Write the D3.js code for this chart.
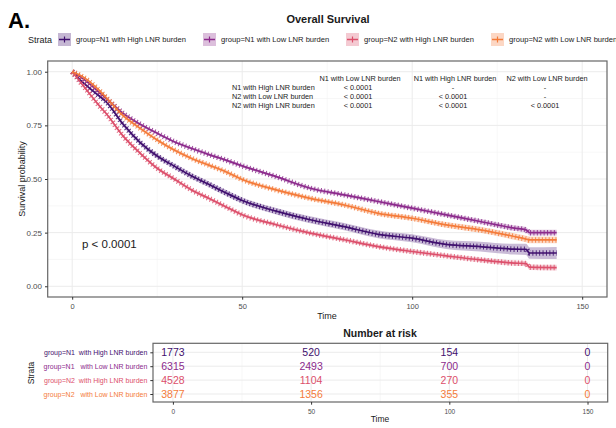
<!DOCTYPE html>
<html>
<head>
<meta charset="utf-8">
<script src="https://cdn.jsdelivr.net/npm/d3@7"></script>
<style>
body { margin: 0; background: #fff; }
text { font-family: "Liberation Sans", Arial, sans-serif; }
</style>
</head>
<body>
<svg id="chart" width="616" height="428"></svg>
<script>
// data
var groups = ["N1 High", "N1 Low", "N2 High", "N2 Low"];
var legendLabels = ["group=N1 with High LNR burden", "group=N1 with Low LNR burden", "group=N2 with High LNR burden", "group=N2 with Low LNR burden"];
var riskLabels = ["group=N1  with High LNR burden", "group=N1   with Low LNR burden", "group=N2  with High LNR burden", "group=N2   with Low LNR burden"];
var colors = ["#3f0f6e", "#8c2a8c", "#dc4f6b", "#f47b3a"];

var times = [0, 2.5, 5, 7.5, 10, 15, 20, 25, 30, 35, 40, 45, 50, 60, 70, 80, 90, 100, 110, 120, 130, 133.5, 134.5, 142.5];
var survN1High = [1, 0.96, 0.925, 0.893, 0.86, 0.755, 0.67, 0.607, 0.56, 0.515, 0.477, 0.437, 0.4, 0.35, 0.31, 0.278, 0.242, 0.224, 0.195, 0.185, 0.173, 0.172, 0.155, 0.155];
var survN1Low = [1, 0.975, 0.945, 0.91, 0.876, 0.806, 0.755, 0.713, 0.674, 0.643, 0.615, 0.589, 0.561, 0.511, 0.457, 0.426, 0.395, 0.364, 0.333, 0.302, 0.271, 0.263, 0.25, 0.25];
var survN2High = [1, 0.95, 0.9, 0.85, 0.805, 0.7, 0.62, 0.55, 0.5, 0.45, 0.411, 0.372, 0.333, 0.287, 0.248, 0.217, 0.185, 0.162, 0.142, 0.123, 0.108, 0.106, 0.089, 0.087];
var survN2Low = [1, 0.982, 0.955, 0.92, 0.88, 0.795, 0.736, 0.682, 0.635, 0.597, 0.566, 0.535, 0.498, 0.449, 0.41, 0.379, 0.34, 0.317, 0.286, 0.263, 0.232, 0.22, 0.216, 0.216];
// confidence band half widths
var ciN1High = [0, .004, .006, .007, .008, .01, .011, .012, .012, .013, .013, .014, .014, .015, .016, .017, .018, .019, .021, .023, .025, .026, .027, .028];
var ciN1Low = [0, .002, .003, .004, .005, .006, .006, .006, .006, .007, .007, .007, .007, .007, .008, .008, .009, .009, .01, .011, .012, .012, .013, .013];
var ciN2High = [0, .003, .004, .005, .006, .007, .007, .008, .008, .008, .008, .008, .008, .008, .009, .009, .009, .01, .01, .011, .012, .012, .013, .013];
var ciN2Low = [0, .003, .004, .005, .006, .007, .008, .008, .008, .008, .009, .009, .009, .009, .01, .01, .011, .012, .013, .014, .015, .015, .016, .016];

var pHeaders = ["N1 with Low LNR burden", "N1 with High LNR burden", "N2 with Low LNR burden"];
var pRows = ["N1 with High LNR burden", "N2 with Low LNR burden", "N2 with High LNR burden"];
var pValues = [["< 0.0001", "-", "-"], ["< 0.0001", "< 0.0001", "-"], ["< 0.0001", "< 0.0001", "< 0.0001"]];

var riskTimes = [0, 50, 100, 150];
var riskN1High = [1773, 520, 154, 0];
var riskN1Low = [6315, 2493, 700, 0];
var riskN2High = [4528, 1104, 270, 0];
var riskN2Low = [3877, 1356, 355, 0];

var xTicks = [0, 50, 100, 150];
var yTicks = [0, 0.25, 0.5, 0.75, 1];

var surv = [survN1High, survN1Low, survN2High, survN2Low];
var ci = [ciN1High, ciN1Low, ciN2High, ciN2Low];
var risk = [riskN1High, riskN1Low, riskN2High, riskN2Low];

var svg = d3.select("#chart");

// titles
svg.append("text").attr("x", 8).attr("y", 28)
	.attr("font-size", 22).attr("font-weight", "bold").text("A.");
svg.append("text").attr("x", 328).attr("y", 23).attr("text-anchor", "middle")
	.attr("font-size", 11).attr("font-weight", "bold").attr("fill", "#1a1a1a").text("Overall Survival");

// legend
svg.append("text").attr("x", 28).attr("y", 42.5).attr("font-size", 9).attr("fill", "#1a1a1a").text("Strata");
var legX = [58, 203, 346, 491];
var leg = svg.append("g").selectAll("g").data(groups).enter().append("g")
	.attr("transform", function(d, i) { return "translate(" + legX[i] + ",33)"; });
leg.append("rect").attr("width", 13).attr("height", 13)
	.attr("fill", function(d, i) { return colors[i]; }).attr("fill-opacity", 0.3);
leg.append("line").attr("x1", 1).attr("x2", 12).attr("y1", 6.5).attr("y2", 6.5)
	.attr("stroke", function(d, i) { return colors[i]; }).attr("stroke-width", 1.5);
leg.append("line").attr("x1", 6.5).attr("x2", 6.5).attr("y1", 3.5).attr("y2", 9.5)
	.attr("stroke", function(d, i) { return colors[i]; }).attr("stroke-width", 1.2);
leg.append("text").attr("x", 18).attr("y", 9.3).attr("font-size", 7.6).attr("fill", "#1a1a1a")
	.text(function(d, i) { return legendLabels[i]; });

// main panel
var x = d3.scaleLinear().domain([-7.2, 157.3]).range([47.7, 607]);
var y = d3.scaleLinear().domain([-0.05, 1.05]).range([297, 61]);

var grid = svg.append("g");
[25, 75, 125].forEach(function(t) {
	grid.append("line").attr("x1", x(t)).attr("x2", x(t)).attr("y1", 61).attr("y2", 297)
		.attr("stroke", "#f2f2f2").attr("stroke-width", 0.6);
});
[0.125, 0.375, 0.625, 0.875].forEach(function(s) {
	grid.append("line").attr("x1", 47.7).attr("x2", 607).attr("y1", y(s)).attr("y2", y(s))
		.attr("stroke", "#f2f2f2").attr("stroke-width", 0.6);
});
xTicks.forEach(function(t) {
	grid.append("line").attr("x1", x(t)).attr("x2", x(t)).attr("y1", 61).attr("y2", 297)
		.attr("stroke", "#ebebeb").attr("stroke-width", 1);
});
yTicks.forEach(function(s) {
	grid.append("line").attr("x1", 47.7).attr("x2", 607).attr("y1", y(s)).attr("y2", y(s))
		.attr("stroke", "#ebebeb").attr("stroke-width", 1);
});

var plot = svg.append("g");
var area = d3.area().curve(d3.curveMonotoneX)
	.x(function(d) { return x(d.t); })
	.y0(function(d) { return y(d.s - d.c); })
	.y1(function(d) { return y(d.s + d.c); });
var line = d3.line().curve(d3.curveMonotoneX)
	.x(function(d) { return x(d.t); })
	.y(function(d) { return y(d.s); });

groups.forEach(function(g, i) {
	var pts = times.map(function(t, j) { return {t: t, s: surv[i][j], c: ci[i][j]}; });
	plot.append("path").datum(pts).attr("d", area)
		.attr("fill", colors[i]).attr("fill-opacity", 0.28);
});
groups.forEach(function(g, i) {
	var pts = times.map(function(t, j) { return {t: t, s: surv[i][j], c: ci[i][j]}; });
	// the censor "+" marks, drawn as cross bars along the curve
	plot.append("path").datum(pts).attr("d", line)
		.attr("fill", "none").attr("stroke", colors[i]).attr("stroke-width", 5.5)
		.attr("stroke-dasharray", "1,2.4").attr("stroke-opacity", 0.85);
	plot.append("path").datum(pts).attr("d", line)
		.attr("fill", "none").attr("stroke", colors[i]).attr("stroke-width", 1.7);
});

// pairwise p-value table
var pCols = [360, 455, 547];
pHeaders.forEach(function(h, j) {
	plot.append("text").attr("x", pCols[j]).attr("y", 81).attr("text-anchor", "middle")
		.attr("font-size", 7.3).attr("fill", "#1a1a1a").text(h);
});
pRows.forEach(function(r, i) {
	plot.append("text").attr("x", 232).attr("y", 90 + i * 8.8)
		.attr("font-size", 7.3).attr("fill", "#1a1a1a").text(r);
	pValues[i].forEach(function(v, j) {
		plot.append("text").attr("x", pCols[j] - 2).attr("y", 90 + i * 8.8).attr("text-anchor", "middle")
			.attr("font-size", 7.3).attr("fill", "#1a1a1a").text(v);
	});
});

plot.append("text").attr("x", 82).attr("y", 248).attr("font-size", 11.5).attr("fill", "#1a1a1a").text("p < 0.0001");

svg.append("rect").attr("x", 47.7).attr("y", 61).attr("width", 607 - 47.7).attr("height", 297 - 61)
	.attr("fill", "none").attr("stroke", "#666").attr("stroke-width", 1.2);

var yAxis = svg.append("g").attr("transform", "translate(47.7,0)")
	.call(d3.axisLeft(y).tickValues(yTicks).tickFormat(d3.format(".2f")).tickSize(2.7));
var xAxis = svg.append("g").attr("transform", "translate(0,297)")
	.call(d3.axisBottom(x).tickValues(xTicks).tickSize(2.7));
[yAxis, xAxis].forEach(function(a) {
	a.select(".domain").remove();
	a.selectAll("line").attr("stroke", "#333");
	a.selectAll("text").attr("fill", "#4d4d4d").attr("font-family", "Liberation Sans, Arial, sans-serif");
});
yAxis.selectAll("text").attr("font-size", 8);
xAxis.selectAll("text").attr("font-size", 7.5).attr("dy", "0.9em");

svg.append("text").attr("transform", "translate(25,179) rotate(-90)").attr("text-anchor", "middle")
	.attr("font-size", 9).attr("fill", "#1a1a1a").text("Survival probability");
svg.append("text").attr("x", 327).attr("y", 319).attr("text-anchor", "middle")
	.attr("font-size", 9).attr("fill", "#1a1a1a").text("Time");

// number at risk table
var rx = d3.scaleLinear().domain([-7.2, 157.3]).range([153, 607.7]);
var ry = d3.scalePoint().domain(groups).range([352.3, 394]);

svg.append("text").attr("x", 380).attr("y", 337).attr("text-anchor", "middle")
	.attr("font-size", 10.5).attr("font-weight", "bold").attr("fill", "#1a1a1a").text("Number at risk");

var rgrid = svg.append("g");
[25, 75, 125].forEach(function(t) {
	rgrid.append("line").attr("x1", rx(t)).attr("x2", rx(t)).attr("y1", 343.3).attr("y2", 402)
		.attr("stroke", "#f2f2f2").attr("stroke-width", 0.6);
});
xTicks.forEach(function(t) {
	rgrid.append("line").attr("x1", rx(t)).attr("x2", rx(t)).attr("y1", 343.3).attr("y2", 402)
		.attr("stroke", "#ebebeb").attr("stroke-width", 1);
});
groups.forEach(function(g) {
	rgrid.append("line").attr("x1", 153).attr("x2", 607.7).attr("y1", ry(g)).attr("y2", ry(g))
		.attr("stroke", "#ebebeb").attr("stroke-width", 1);
});

groups.forEach(function(g, i) {
	svg.append("g").selectAll("text").data(riskTimes).enter().append("text")
		.attr("x", function(t) { return rx(t); })
		.attr("y", ry(g) + 3.8)
		.attr("text-anchor", "middle").attr("font-size", 10.5).attr("fill", colors[i])
		.text(function(t, j) { return risk[i][j]; });
});

svg.append("rect").attr("x", 153).attr("y", 343.3).attr("width", 607.7 - 153).attr("height", 402 - 343.3)
	.attr("fill", "none").attr("stroke", "#666").attr("stroke-width", 1.2);

var ryAxis = svg.append("g").attr("transform", "translate(153,0)")
	.call(d3.axisLeft(ry).tickSize(2.7).tickFormat(function(d, i) { return riskLabels[i]; }));
var rxAxis = svg.append("g").attr("transform", "translate(0,402)")
	.call(d3.axisBottom(rx).tickValues(xTicks).tickSize(2.7));
[ryAxis, rxAxis].forEach(function(a) {
	a.select(".domain").remove();
	a.selectAll("line").attr("stroke", "#333");
	a.selectAll("text").attr("font-family", "Liberation Sans, Arial, sans-serif");
});
ryAxis.selectAll("text").attr("font-size", 7).attr("fill", function(d, i) { return colors[i]; })
	.style("white-space", "pre");
rxAxis.selectAll("text").attr("font-size", 6.5).attr("fill", "#4d4d4d").attr("dy", "0.9em");

svg.append("text").attr("transform", "translate(34,373) rotate(-90)").attr("text-anchor", "middle")
	.attr("font-size", 8.5).attr("fill", "#1a1a1a").text("Strata");
svg.append("text").attr("x", 380).attr("y", 422).attr("text-anchor", "middle")
	.attr("font-size", 8.5).attr("fill", "#1a1a1a").text("Time");
</script>
</body>
</html>
